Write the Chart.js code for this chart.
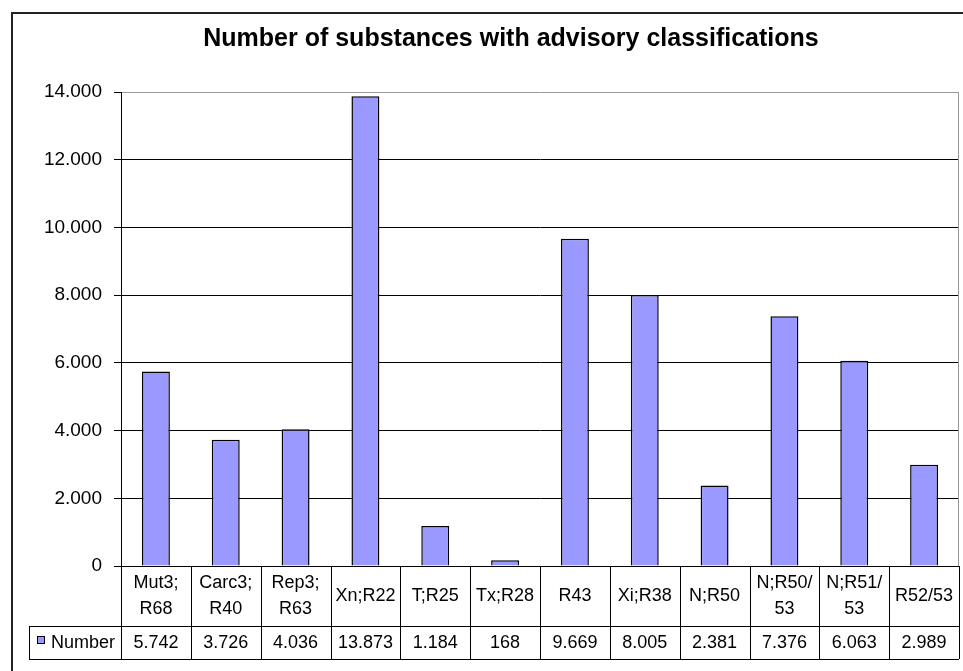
<!DOCTYPE html>
<html>
<head>
<meta charset="utf-8">
<script src="https://cdn.jsdelivr.net/npm/chart.js@4"></script>
<style>
  body { margin: 0; background: #fff; }
  #wrap { width: 963px; height: 671px; }
</style>
</head>
<body>
<div id="wrap"><canvas id="chart" width="963" height="671"></canvas></div>
<script>
const chartTitle = 'Number of substances with advisory classifications';
const seriesName = 'Number';
const categories = [
  ['Mut3;', 'R68'], ['Carc3;', 'R40'], ['Rep3;', 'R63'], 'Xn;R22', 'T;R25', 'Tx;R28',
  'R43', 'Xi;R38', 'N;R50', ['N;R50/', '53'], ['N;R51/', '53'], 'R52/53'
];
const values = [5742, 3726, 4036, 13873, 1184, 168, 9669, 8005, 2381, 7376, 6063, 2989];
const yTicks = [0, 2000, 4000, 6000, 8000, 10000, 12000, 14000];

const FONT = '"Liberation Sans", Arial, sans-serif';
const barColor = '#9999FF';

function fmt(v) {
  return v.toLocaleString('de-DE');
}

// title, frame and the data table under the plot
const tablePlugin = {
  id: 'tablePlugin',
  afterDraw(chart) {
    const ctx = chart.ctx;
    const area = chart.chartArea;
    const x = chart.scales.x;
    const row1 = area.bottom + 60;
    const row2 = row1 + 33;
    const legendLeft = 29;
    ctx.save();

    // outer frame
    ctx.strokeStyle = '#222';
    ctx.lineWidth = 2;
    ctx.beginPath();
    ctx.moveTo(12, 671);
    ctx.lineTo(12, 13);
    ctx.lineTo(963, 13);
    ctx.stroke();

    // title
    ctx.fillStyle = '#000';
    ctx.font = 'bold 25px ' + FONT;
    ctx.textAlign = 'center';
    ctx.textBaseline = 'alphabetic';
    ctx.fillText(chartTitle, 511, 46);

    // right border of plot
    ctx.strokeStyle = '#999';
    ctx.lineWidth = 1;
    ctx.beginPath();
    ctx.moveTo(area.right - 0.5, area.top);
    ctx.lineTo(area.right - 0.5, area.bottom);
    ctx.stroke();

    // table grid
    ctx.strokeStyle = '#000';
    ctx.beginPath();
    const step = (area.right - area.left) / categories.length;
    for (let i = 0; i <= categories.length; i++) {
      const lx = Math.round(area.left + i * step) + 0.5;
      ctx.moveTo(lx, area.bottom);
      ctx.lineTo(lx, row2);
    }
    ctx.moveTo(legendLeft + 0.5, row1);
    ctx.lineTo(legendLeft + 0.5, row2);
    ctx.moveTo(legendLeft, row1 + 0.5);
    ctx.lineTo(area.right, row1 + 0.5);
    ctx.moveTo(legendLeft, row2 + 0.5);
    ctx.lineTo(area.right, row2 + 0.5);
    ctx.stroke();

    // category labels and values
    ctx.font = '18px ' + FONT;
    ctx.fillStyle = '#000';
    ctx.textBaseline = 'middle';
    categories.forEach((c, i) => {
      const cx = x.getPixelForValue(i);
      const lines = Array.isArray(c) ? c : [c];
      const mid = (area.bottom + row1) / 2;
      lines.forEach((t, j) => {
        ctx.fillText(t, cx, mid + (j - (lines.length - 1) / 2) * 26);
      });
      ctx.fillText(fmt(values[i]), cx, (row1 + row2) / 2 + 1);
    });

    // legend key
    ctx.fillStyle = barColor;
    ctx.fillRect(37.5, 636.5, 7, 7);
    ctx.strokeStyle = '#000';
    ctx.strokeRect(37.5, 636.5, 7, 7);
    ctx.fillStyle = '#000';
    ctx.textAlign = 'left';
    ctx.fillText(seriesName, 51, (row1 + row2) / 2 + 1);
    ctx.restore();
  }
};

new Chart(document.getElementById('chart'), {
  type: 'bar',
  data: {
    labels: categories,
    datasets: [{
      label: seriesName,
      data: values,
      backgroundColor: barColor,
      borderColor: '#000',
      borderWidth: 1.5,
      categoryPercentage: 1,
      barPercentage: 0.4
    }]
  },
  options: {
    responsive: false,
    animation: false,
    layout: { padding: { left: 0, right: 4, top: 92, bottom: 0 } },
    plugins: { legend: { display: false }, tooltip: { enabled: false }, title: { display: false } },
    scales: {
      x: {
        grid: { display: false },
        border: { display: true, color: '#000' },
        ticks: { display: false },
        afterFit(scale) { scale.height = 105; }
      },
      y: {
        min: 0,
        max: 14000,
        afterBuildTicks(scale) { scale.ticks = yTicks.map(v => ({ value: v })); },
        afterFit(scale) { scale.width = 121; },
        grid: {
          color: ctx => (ctx.tick && ctx.tick.value === 14000 ? '#999' : '#000'),
          tickColor: '#000',
          tickLength: 7
        },
        border: { display: true, color: '#000' },
        ticks: {
          padding: 12,
          color: '#000',
          font: { family: FONT, size: 19 },
          callback: v => fmt(v)
        }
      }
    }
  },
  plugins: [tablePlugin]
});
</script>
</body>
</html>
